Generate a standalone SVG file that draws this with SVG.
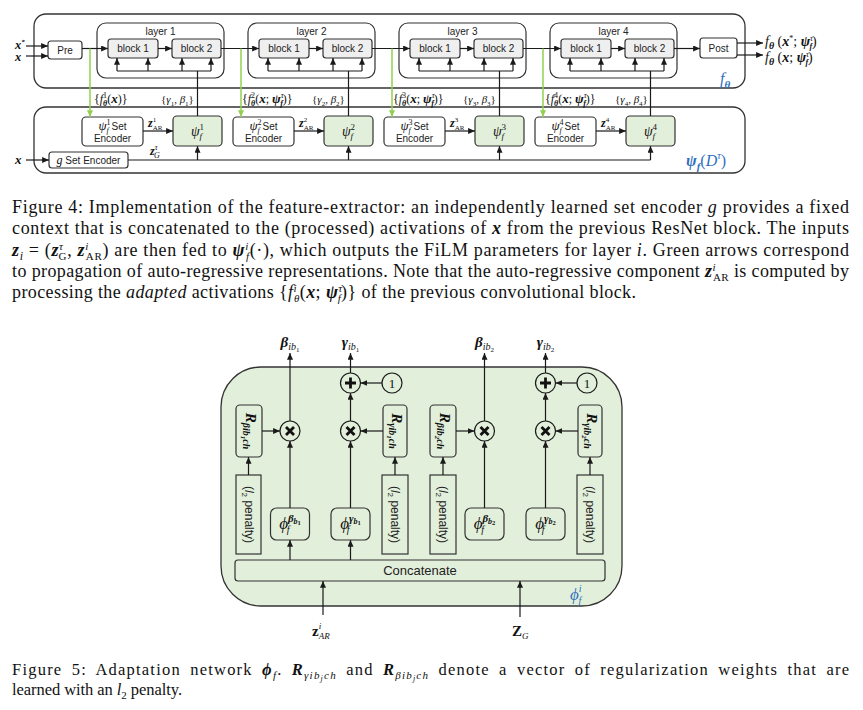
<svg xmlns="http://www.w3.org/2000/svg" width="863" height="710" viewBox="0 0 863 710">
<defs>
<marker id="ah" viewBox="0 0 8 7" refX="8" refY="3.5" markerWidth="7" markerHeight="6" markerUnits="userSpaceOnUse" orient="auto"><path d="M0,0 L8,3.5 L0,7 z" fill="#1a1a1a"/></marker>
<marker id="ahg" viewBox="0 0 8 7" refX="8" refY="3.5" markerWidth="7" markerHeight="6" markerUnits="userSpaceOnUse" orient="auto"><path d="M0,0 L8,3.5 L0,7 z" fill="#92d050"/></marker>
</defs>
<style>
.box{fill:#fff;stroke:#333;stroke-width:1.2}
.outer{fill:none;stroke:#333;stroke-width:1.3}
.blk{fill:#efefef;stroke:#333;stroke-width:1.2}
.grn{fill:#e2efda;stroke:#333;stroke-width:1.2}
.sq{fill:#e2efda;stroke:#333;stroke-width:1.2}
.circ{fill:#e2efda;stroke:#1a1a1a;stroke-width:1.2}
.op{stroke:#111;stroke-width:2.8;stroke-linecap:butt}
.ln{fill:none;stroke:#1a1a1a;stroke-width:1.2}
.arr{fill:none;stroke:#1a1a1a;stroke-width:1.2;marker-end:url(#ah)}
.garr{fill:none;stroke:#92d050;stroke-width:1.5;marker-end:url(#ahg)}
.sans{font-family:"Liberation Sans",Arial,sans-serif;font-size:10px;fill:#222;text-anchor:middle}
.ser{font-family:"Liberation Serif","DejaVu Serif","Times New Roman",serif;fill:#111}
.i{font-style:italic}
.b{font-weight:bold}
.bi{font-style:italic;font-weight:bold}
.cap4{font-family:"Liberation Serif","DejaVu Serif","Times New Roman",serif;font-size:18px;fill:#111}
.cap5{font-family:"Liberation Serif","DejaVu Serif","Times New Roman",serif;font-size:16.5px;fill:#111}
.blue{fill:#2f6fc0}
</style>

<!-- ===================== Figure 4 ===================== -->
<g id="f-theta">
<rect class="outer" x="34" y="14" width="711" height="74" rx="12"/>
<text class="ser i blue" x="720" y="84" font-size="16">f<tspan class="bi" font-size="11" baseline-shift="-4">θ</tspan></text>
</g>
<g id="psi-f">
<rect class="outer" x="34" y="107" width="711" height="66" rx="12"/>
<text class="ser blue" x="686" y="166" font-size="16"><tspan class="bi">ψ</tspan><tspan class="bi" font-size="11" baseline-shift="-4">f</tspan><tspan>(</tspan><tspan class="i">D</tspan><tspan class="i" font-size="10" baseline-shift="7">τ</tspan><tspan>)</tspan></text>
</g>

<g id="inputs-top">
<text class="ser bi" x="15" y="49" font-size="12.5">x<tspan font-size="7" baseline-shift="5">*</tspan></text>
<text class="ser bi" x="15" y="61" font-size="12.5">x</text>
<text class="ser bi" x="15" y="164" font-size="13">x</text>
</g>

<g id="pre">
<rect class="box" x="48" y="41" width="34" height="18" rx="3"/>
<text class="sans" x="65" y="53.5">Pre</text>
</g>
<g id="post">
<rect class="box" x="700" y="38" width="37" height="20" rx="3"/>
<text class="sans" x="718.5" y="51.5">Post</text>
</g>
<g id="outputs">
<text class="ser" x="765" y="46" font-size="14"><tspan class="i">f</tspan><tspan class="bi" font-size="10" baseline-shift="-3">θ</tspan> (<tspan class="bi">x</tspan><tspan font-size="8" baseline-shift="5">*</tspan>; <tspan class="bi">ψ</tspan><tspan class="i" font-size="8" baseline-shift="5">τ</tspan><tspan class="bi" font-size="8" dx="-3.5" baseline-shift="-3">f</tspan>)</text>
<text class="ser" x="765" y="62" font-size="14"><tspan class="i">f</tspan><tspan class="bi" font-size="10" baseline-shift="-3">θ</tspan> (<tspan class="bi">x</tspan>; <tspan class="bi">ψ</tspan><tspan class="i" font-size="8" baseline-shift="5">τ</tspan><tspan class="bi" font-size="8" dx="-3.5" baseline-shift="-3">f</tspan>)</text>
</g>

<!-- layers -->
<g id="layer1">
<rect class="box" x="97" y="23" width="127" height="55" rx="9"/>
<text class="sans" x="160.5" y="34.5">layer 1</text>
<g id="layer1-block1"><rect class="blk" x="108" y="39" width="50" height="19" rx="3"/><text class="sans" x="133" y="52">block 1</text></g>
<g id="layer1-block2"><rect class="blk" x="172" y="39" width="49" height="19" rx="3"/><text class="sans" x="196.5" y="52">block 2</text></g>
</g>
<g id="layer2">
<rect class="box" x="248" y="23" width="127" height="55" rx="9"/>
<text class="sans" x="311.5" y="34.5">layer 2</text>
<g id="layer2-block1"><rect class="blk" x="259" y="39" width="50" height="19" rx="3"/><text class="sans" x="284" y="52">block 1</text></g>
<g id="layer2-block2"><rect class="blk" x="323" y="39" width="49" height="19" rx="3"/><text class="sans" x="347.5" y="52">block 2</text></g>
</g>
<g id="layer3">
<rect class="box" x="399" y="23" width="127" height="55" rx="9"/>
<text class="sans" x="462.5" y="34.5">layer 3</text>
<g id="layer3-block1"><rect class="blk" x="410" y="39" width="50" height="19" rx="3"/><text class="sans" x="435" y="52">block 1</text></g>
<g id="layer3-block2"><rect class="blk" x="474" y="39" width="49" height="19" rx="3"/><text class="sans" x="498.5" y="52">block 2</text></g>
</g>
<g id="layer4">
<rect class="box" x="550" y="23" width="127" height="55" rx="9"/>
<text class="sans" x="613.5" y="34.5">layer 4</text>
<g id="layer4-block1"><rect class="blk" x="561" y="39" width="50" height="19" rx="3"/><text class="sans" x="586" y="52">block 1</text></g>
<g id="layer4-block2"><rect class="blk" x="625" y="39" width="49" height="19" rx="3"/><text class="sans" x="649.5" y="52">block 2</text></g>
</g>

<!-- set encoders and psi boxes -->
<g id="enc1"><rect class="box" x="82" y="117" width="61" height="29" rx="4"/>
<text class="sans" x="112.5" y="129.5"><tspan class="ser i" font-size="13">ψ</tspan><tspan class="ser" font-size="8" baseline-shift="5">1</tspan><tspan class="ser i" font-size="8" dx="-4" baseline-shift="-3">f</tspan> Set</text>
<text class="sans" x="112.5" y="142">Encoder</text></g>
<g id="enc2"><rect class="box" x="233" y="117" width="61" height="29" rx="4"/>
<text class="sans" x="263.5" y="129.5"><tspan class="ser i" font-size="13">ψ</tspan><tspan class="ser" font-size="8" baseline-shift="5">2</tspan><tspan class="ser i" font-size="8" dx="-4" baseline-shift="-3">f</tspan> Set</text>
<text class="sans" x="263.5" y="142">Encoder</text></g>
<g id="enc3"><rect class="box" x="384" y="117" width="61" height="29" rx="4"/>
<text class="sans" x="414.5" y="129.5"><tspan class="ser i" font-size="13">ψ</tspan><tspan class="ser" font-size="8" baseline-shift="5">3</tspan><tspan class="ser i" font-size="8" dx="-4" baseline-shift="-3">f</tspan> Set</text>
<text class="sans" x="414.5" y="142">Encoder</text></g>
<g id="enc4"><rect class="box" x="535" y="117" width="61" height="29" rx="4"/>
<text class="sans" x="565.5" y="129.5"><tspan class="ser i" font-size="13">ψ</tspan><tspan class="ser" font-size="8" baseline-shift="5">4</tspan><tspan class="ser i" font-size="8" dx="-4" baseline-shift="-3">f</tspan> Set</text>
<text class="sans" x="565.5" y="142">Encoder</text></g>

<g id="psi1"><rect class="grn" x="173" y="116" width="49" height="30" rx="4"/>
<text class="ser i" x="197.5" y="135.5" font-size="14" text-anchor="middle">ψ<tspan font-size="9" font-style="normal" baseline-shift="6">1</tspan><tspan font-size="9" dx="-4.5" baseline-shift="-3">f</tspan></text></g>
<g id="psi2"><rect class="grn" x="324" y="116" width="49" height="30" rx="4"/>
<text class="ser i" x="348.5" y="135.5" font-size="14" text-anchor="middle">ψ<tspan font-size="9" font-style="normal" baseline-shift="6">2</tspan><tspan font-size="9" dx="-4.5" baseline-shift="-3">f</tspan></text></g>
<g id="psi3"><rect class="grn" x="475" y="116" width="49" height="30" rx="4"/>
<text class="ser i" x="499.5" y="135.5" font-size="14" text-anchor="middle">ψ<tspan font-size="9" font-style="normal" baseline-shift="6">3</tspan><tspan font-size="9" dx="-4.5" baseline-shift="-3">f</tspan></text></g>
<g id="psi4"><rect class="grn" x="626" y="116" width="49" height="30" rx="4"/>
<text class="ser i" x="650.5" y="135.5" font-size="14" text-anchor="middle">ψ<tspan font-size="9" font-style="normal" baseline-shift="6">4</tspan><tspan font-size="9" dx="-4.5" baseline-shift="-3">f</tspan></text></g>

<g id="g-enc"><rect class="box" x="49" y="152" width="79" height="16" rx="3"/>
<text class="sans" x="88.5" y="163.5"><tspan class="ser i" font-size="12">g</tspan> Set Encoder</text></g>

<!-- connectors fig 4 -->
<g id="connectors-fig4">
<path class="arr" d="M26,46 H48"/>
<path class="arr" d="M26,56 H48"/>
<path class="arr" d="M26,160 H49"/>
<path class="arr" d="M82,48.5 H108"/>
<path class="arr" d="M221,48.5 H259"/>
<path class="arr" d="M372,48.5 H410"/>
<path class="arr" d="M523,48.5 H561"/>
<path class="arr" d="M674,48.5 H700"/>
<path class="arr" d="M158,48.5 H172"/>
<path class="arr" d="M309,48.5 H323"/>
<path class="arr" d="M460,48.5 H474"/>
<path class="arr" d="M611,48.5 H625"/>
<path class="arr" d="M737,43 H763"/>
<path class="arr" d="M737,55 H763"/>
<path class="ln" d="M117,71 H211 M268,71 H362 M419,71 H513 M570,71 H664"/>
<path class="arr" d="M117,71 V58"/><path class="arr" d="M148,71 V58"/><path class="arr" d="M182,71 V58"/><path class="arr" d="M211,71 V58"/>
<path class="arr" d="M268,71 V58"/><path class="arr" d="M299,71 V58"/><path class="arr" d="M333,71 V58"/><path class="arr" d="M362,71 V58"/>
<path class="arr" d="M419,71 V58"/><path class="arr" d="M450,71 V58"/><path class="arr" d="M484,71 V58"/><path class="arr" d="M513,71 V58"/>
<path class="arr" d="M570,71 V58"/><path class="arr" d="M601,71 V58"/><path class="arr" d="M635,71 V58"/><path class="arr" d="M664,71 V58"/>
<path class="ln" d="M197.5,116 V71 M348.5,116 V71 M499.5,116 V71 M650.5,116 V71"/>
<path class="garr" d="M90,48.5 V117"/>
<path class="garr" d="M241,48.5 V117"/>
<path class="garr" d="M392,48.5 V117"/>
<path class="garr" d="M543,48.5 V117"/>
<path class="arr" d="M143,131 H173"/>
<path class="arr" d="M294,131 H324"/>
<path class="arr" d="M445,131 H475"/>
<path class="arr" d="M596,131 H626"/>
<path class="ln" d="M128,160 H650.5"/>
<path class="arr" d="M197.5,160 V146"/>
<path class="arr" d="M348.5,160 V146"/>
<path class="arr" d="M499.5,160 V146"/>
<path class="arr" d="M650.5,160 V146"/>
</g>

<g id="labels-fig4">
<text class="ser" x="94" y="103" font-size="12">{<tspan class="i">f</tspan><tspan font-size="8" baseline-shift="5">1</tspan><tspan class="bi" font-size="8" dx="-4" baseline-shift="-3">θ</tspan>(<tspan class="bi" font-size="13">x</tspan>)}</text>
<text class="ser" x="161" y="103" font-size="11">{<tspan class="i">γ</tspan><tspan font-size="7" baseline-shift="-3">1</tspan>, <tspan class="i">β</tspan><tspan font-size="7" baseline-shift="-3">1</tspan>}</text>
<text class="ser" x="242" y="103" font-size="12">{<tspan class="i">f</tspan><tspan font-size="8" baseline-shift="5">2</tspan><tspan class="bi" font-size="8" dx="-4" baseline-shift="-3">θ</tspan>(<tspan class="bi" font-size="13">x</tspan>; <tspan class="bi" font-size="13">ψ</tspan><tspan class="i" font-size="8" baseline-shift="5">τ</tspan><tspan class="bi" font-size="8" dx="-3.5" baseline-shift="-3">f</tspan>)}</text>
<text class="ser" x="312" y="103" font-size="11">{<tspan class="i">γ</tspan><tspan font-size="7" baseline-shift="-3">2</tspan>, <tspan class="i">β</tspan><tspan font-size="7" baseline-shift="-3">2</tspan>}</text>
<text class="ser" x="393" y="103" font-size="12">{<tspan class="i">f</tspan><tspan font-size="8" baseline-shift="5">3</tspan><tspan class="bi" font-size="8" dx="-4" baseline-shift="-3">θ</tspan>(<tspan class="bi" font-size="13">x</tspan>; <tspan class="bi" font-size="13">ψ</tspan><tspan class="i" font-size="8" baseline-shift="5">τ</tspan><tspan class="bi" font-size="8" dx="-3.5" baseline-shift="-3">f</tspan>)}</text>
<text class="ser" x="463" y="103" font-size="11">{<tspan class="i">γ</tspan><tspan font-size="7" baseline-shift="-3">3</tspan>, <tspan class="i">β</tspan><tspan font-size="7" baseline-shift="-3">3</tspan>}</text>
<text class="ser" x="545" y="103" font-size="12">{<tspan class="i">f</tspan><tspan font-size="8" baseline-shift="5">4</tspan><tspan class="bi" font-size="8" dx="-4" baseline-shift="-3">θ</tspan>(<tspan class="bi" font-size="13">x</tspan>; <tspan class="bi" font-size="13">ψ</tspan><tspan class="i" font-size="8" baseline-shift="5">τ</tspan><tspan class="bi" font-size="8" dx="-3.5" baseline-shift="-3">f</tspan>)}</text>
<text class="ser" x="615" y="103" font-size="11">{<tspan class="i">γ</tspan><tspan font-size="7" baseline-shift="-3">4</tspan>, <tspan class="i">β</tspan><tspan font-size="7" baseline-shift="-3">4</tspan>}</text>
<text class="ser" x="148" y="127" font-size="12"><tspan class="bi">z</tspan><tspan font-size="7" baseline-shift="5">1</tspan><tspan font-size="7" dx="-3.5" baseline-shift="-3">AR</tspan></text>
<text class="ser" x="299" y="127" font-size="12"><tspan class="bi">z</tspan><tspan font-size="7" baseline-shift="5">2</tspan><tspan font-size="7" dx="-3.5" baseline-shift="-3">AR</tspan></text>
<text class="ser" x="450" y="127" font-size="12"><tspan class="bi">z</tspan><tspan font-size="7" baseline-shift="5">3</tspan><tspan font-size="7" dx="-3.5" baseline-shift="-3">AR</tspan></text>
<text class="ser" x="601" y="127" font-size="12"><tspan class="bi">z</tspan><tspan font-size="7" baseline-shift="5">4</tspan><tspan font-size="7" dx="-3.5" baseline-shift="-3">AR</tspan></text>
<text class="ser" x="150" y="155" font-size="12"><tspan class="bi">z</tspan><tspan class="i" font-size="8" baseline-shift="5">τ</tspan><tspan class="i" font-size="8" dx="-3.5" baseline-shift="-3">G</tspan></text>
</g>

<g id="caption4">
<text class="cap4" x="12" y="213" textLength="837" lengthAdjust="spacing">Figure 4: Implementation of the feature-extractor: an independently learned set encoder <tspan class="i">g</tspan> provides a fixed</text>
<text class="cap4" x="12" y="234" textLength="837" lengthAdjust="spacing">context that is concatenated to the (processed) activations of <tspan class="bi">x</tspan> from the previous ResNet block. The inputs</text>
<text class="cap4" x="12" y="256" textLength="837" lengthAdjust="spacing"><tspan class="bi">z</tspan><tspan class="i" font-size="12" baseline-shift="-4">i</tspan> = (<tspan class="bi">z</tspan><tspan class="i" font-size="11" baseline-shift="6">τ</tspan><tspan font-size="11" dx="-5" baseline-shift="-4">G</tspan>, <tspan class="bi">z</tspan><tspan class="i" font-size="11" baseline-shift="6">i</tspan><tspan font-size="11" dx="-3" baseline-shift="-4">AR</tspan>) are then fed to <tspan class="bi">ψ</tspan><tspan class="i" font-size="11" baseline-shift="6">i</tspan><tspan class="i" font-size="11" dx="-3" baseline-shift="-4">f</tspan>(·), which outputs the FiLM parameters for layer <tspan class="i">i</tspan>. Green arrows correspond</text>
<text class="cap4" x="12" y="277" textLength="837" lengthAdjust="spacing">to propagation of auto-regressive representations. Note that the auto-regressive component <tspan class="bi">z</tspan><tspan class="i" font-size="11" baseline-shift="6">i</tspan><tspan font-size="11" dx="-3" baseline-shift="-4">AR</tspan> is computed by</text>
<text class="cap4" x="12" y="298" textLength="624" lengthAdjust="spacing">processing the <tspan class="i">adapted</tspan> activations {<tspan class="i">f</tspan><tspan class="i" font-size="11" baseline-shift="6">i</tspan><tspan class="i" font-size="11" dx="-3" baseline-shift="-4">θ</tspan>(<tspan class="bi">x</tspan>; <tspan class="bi">ψ</tspan><tspan class="i" font-size="11" baseline-shift="6">τ</tspan><tspan class="i" font-size="11" dx="-5" baseline-shift="-4">f</tspan>)} of the previous convolutional block.</text>
</g>

<!-- ===================== Figure 5 ===================== -->
<g id="phi-f">
<rect x="221" y="367" width="401" height="239" rx="40" fill="#e2efda" stroke="#333" stroke-width="1.3"/>
<text class="ser i blue" x="570" y="600" font-size="17">ϕ<tspan font-size="10" baseline-shift="8">i</tspan><tspan font-size="10" dx="-3" baseline-shift="-4">f</tspan></text>
</g>

<g id="concatenate">
<rect class="sq" x="235" y="560" width="370" height="21" rx="3"/>
<text class="sans" x="420" y="575" style="font-size:13px">Concatenate</text>
</g>

<g id="l2-1"><rect class="sq" x="236" y="475" width="25" height="79"/>
<text class="sans" transform="translate(248.5,514.5) rotate(90)" y="4" style="font-size:12px">(<tspan class="i">l</tspan><tspan font-size="8" baseline-shift="-3">2</tspan> penalty)</text></g>
<g id="l2-2"><rect class="sq" x="382" y="475" width="26" height="79"/>
<text class="sans" transform="translate(395,514.5) rotate(90)" y="4" style="font-size:12px">(<tspan class="i">l</tspan><tspan font-size="8" baseline-shift="-3">2</tspan> penalty)</text></g>
<g id="l2-3"><rect class="sq" x="430" y="475" width="26" height="79"/>
<text class="sans" transform="translate(443,514.5) rotate(90)" y="4" style="font-size:12px">(<tspan class="i">l</tspan><tspan font-size="8" baseline-shift="-3">2</tspan> penalty)</text></g>
<g id="l2-4"><rect class="sq" x="577" y="475" width="26" height="79"/>
<text class="sans" transform="translate(590,514.5) rotate(90)" y="4" style="font-size:12px">(<tspan class="i">l</tspan><tspan font-size="8" baseline-shift="-3">2</tspan> penalty)</text></g>

<g id="R-beta-b1"><rect class="sq" x="236" y="405" width="26" height="52" rx="4"/>
<text class="ser" transform="translate(249,431) rotate(90)" y="3" text-anchor="middle" font-size="15"><tspan class="bi">R</tspan><tspan class="bi" font-size="10" baseline-shift="-3">βib</tspan><tspan class="bi" font-size="7" baseline-shift="-5">1</tspan><tspan class="bi" font-size="10" baseline-shift="-3">ch</tspan></text></g>
<g id="R-gamma-b1"><rect class="sq" x="383" y="405" width="24" height="52" rx="4"/>
<text class="ser" transform="translate(395,431) rotate(90)" y="3" text-anchor="middle" font-size="15"><tspan class="bi">R</tspan><tspan class="bi" font-size="10" baseline-shift="-3">γib</tspan><tspan class="bi" font-size="7" baseline-shift="-5">1</tspan><tspan class="bi" font-size="10" baseline-shift="-3">ch</tspan></text></g>
<g id="R-beta-b2"><rect class="sq" x="430" y="405" width="26" height="52" rx="4"/>
<text class="ser" transform="translate(443,431) rotate(90)" y="3" text-anchor="middle" font-size="15"><tspan class="bi">R</tspan><tspan class="bi" font-size="10" baseline-shift="-3">βib</tspan><tspan class="bi" font-size="7" baseline-shift="-5">2</tspan><tspan class="bi" font-size="10" baseline-shift="-3">ch</tspan></text></g>
<g id="R-gamma-b2"><rect class="sq" x="578" y="405" width="24" height="52" rx="4"/>
<text class="ser" transform="translate(590,431) rotate(90)" y="3" text-anchor="middle" font-size="15"><tspan class="bi">R</tspan><tspan class="bi" font-size="10" baseline-shift="-3">γib</tspan><tspan class="bi" font-size="7" baseline-shift="-5">2</tspan><tspan class="bi" font-size="10" baseline-shift="-3">ch</tspan></text></g>

<g id="phi-beta-b1"><rect class="sq" x="270.5" y="508" width="39" height="32" rx="6"/>
<text class="ser" x="290" y="529" text-anchor="middle" font-size="17"><tspan class="i">ϕ</tspan><tspan class="bi" font-size="11" baseline-shift="7">β</tspan><tspan class="bi" font-size="8" baseline-shift="5">b</tspan><tspan class="b" font-size="6.5" baseline-shift="4">1</tspan><tspan class="i" font-size="10" dx="-14" baseline-shift="-4">f</tspan></text></g>
<g id="phi-gamma-b1"><rect class="sq" x="331" y="508" width="39" height="32" rx="6"/>
<text class="ser" x="350.5" y="529" text-anchor="middle" font-size="17"><tspan class="i">ϕ</tspan><tspan class="bi" font-size="11" baseline-shift="7">γ</tspan><tspan class="bi" font-size="8" baseline-shift="5">b</tspan><tspan class="b" font-size="6.5" baseline-shift="4">1</tspan><tspan class="i" font-size="10" dx="-14" baseline-shift="-4">f</tspan></text></g>
<g id="phi-beta-b2"><rect class="sq" x="465" y="508" width="39" height="32" rx="6"/>
<text class="ser" x="484.5" y="529" text-anchor="middle" font-size="17"><tspan class="i">ϕ</tspan><tspan class="bi" font-size="11" baseline-shift="7">β</tspan><tspan class="bi" font-size="8" baseline-shift="5">b</tspan><tspan class="b" font-size="6.5" baseline-shift="4">2</tspan><tspan class="i" font-size="10" dx="-14" baseline-shift="-4">f</tspan></text></g>
<g id="phi-gamma-b2"><rect class="sq" x="526" y="508" width="39" height="32" rx="6"/>
<text class="ser" x="545.5" y="529" text-anchor="middle" font-size="17"><tspan class="i">ϕ</tspan><tspan class="bi" font-size="11" baseline-shift="7">γ</tspan><tspan class="bi" font-size="8" baseline-shift="5">b</tspan><tspan class="b" font-size="6.5" baseline-shift="4">2</tspan><tspan class="i" font-size="10" dx="-14" baseline-shift="-4">f</tspan></text></g>

<g id="mul-beta-b1"><circle class="circ" cx="290" cy="431" r="10"/><path class="op" d="M286,427 L294,435 M294,427 L286,435"/></g>
<g id="mul-gamma-b1"><circle class="circ" cx="350.5" cy="431" r="10"/><path class="op" d="M346.5,427 L354.5,435 M354.5,427 L346.5,435"/></g>
<g id="add-gamma-b1"><circle class="circ" cx="350.5" cy="383" r="10"/><path class="op" d="M345,383 H356 M350.5,377.5 V388.5"/></g>
<g id="one-b1"><circle class="circ" cx="392" cy="383" r="10"/><text class="ser" x="392" y="387.5" text-anchor="middle" font-size="13">1</text></g>
<g id="mul-beta-b2"><circle class="circ" cx="484.5" cy="431" r="10"/><path class="op" d="M480.5,427 L488.5,435 M488.5,427 L480.5,435"/></g>
<g id="mul-gamma-b2"><circle class="circ" cx="545.5" cy="431" r="10"/><path class="op" d="M541.5,427 L549.5,435 M549.5,427 L541.5,435"/></g>
<g id="add-gamma-b2"><circle class="circ" cx="545.5" cy="383" r="10"/><path class="op" d="M540,383 H551 M545.5,377.5 V388.5"/></g>
<g id="one-b2"><circle class="circ" cx="587" cy="383" r="10"/><text class="ser" x="587" y="387.5" text-anchor="middle" font-size="13">1</text></g>

<g id="outputs-fig5">
<text class="ser" x="290" y="347" text-anchor="middle" font-size="15"><tspan class="bi">β</tspan><tspan class="i" font-size="10" baseline-shift="-3">ib</tspan><tspan font-size="7" baseline-shift="-5">1</tspan></text>
<text class="ser" x="350.5" y="347" text-anchor="middle" font-size="15"><tspan class="bi">γ</tspan><tspan class="i" font-size="10" baseline-shift="-3">ib</tspan><tspan font-size="7" baseline-shift="-5">1</tspan></text>
<text class="ser" x="484.5" y="347" text-anchor="middle" font-size="15"><tspan class="bi">β</tspan><tspan class="i" font-size="10" baseline-shift="-3">ib</tspan><tspan font-size="7" baseline-shift="-5">2</tspan></text>
<text class="ser" x="545.5" y="347" text-anchor="middle" font-size="15"><tspan class="bi">γ</tspan><tspan class="i" font-size="10" baseline-shift="-3">ib</tspan><tspan font-size="7" baseline-shift="-5">2</tspan></text>
</g>
<g id="inputs-fig5">
<text class="ser" x="312" y="636" font-size="15"><tspan class="b">z</tspan><tspan class="i" font-size="9" baseline-shift="7">i</tspan><tspan class="i" font-size="9" dx="-2.5" baseline-shift="-3">AR</tspan></text>
<text class="ser" x="512" y="636" font-size="15"><tspan class="b">Z</tspan><tspan class="i" font-size="9" baseline-shift="-3">G</tspan></text>
</g>

<g id="connectors-fig5">
<path class="arr" d="M290,421 V353"/>
<path class="arr" d="M350.5,421 V393"/>
<path class="arr" d="M350.5,373 V353"/>
<path class="arr" d="M382,383 H360.5"/>
<path class="arr" d="M262,431 H280"/>
<path class="arr" d="M383,431 H360.5"/>
<path class="arr" d="M290,508 V441"/>
<path class="arr" d="M350.5,508 V441"/>
<path class="arr" d="M248.5,475 V457"/>
<path class="arr" d="M395,475 V457"/>
<path class="arr" d="M290,560 V540"/>
<path class="arr" d="M350.5,560 V540"/>
<path class="arr" d="M484.5,421 V353"/>
<path class="arr" d="M545.5,421 V393"/>
<path class="arr" d="M545.5,373 V353"/>
<path class="arr" d="M577,383 H555.5"/>
<path class="arr" d="M456,431 H474.5"/>
<path class="arr" d="M578,431 H555.5"/>
<path class="arr" d="M484.5,508 V441"/>
<path class="arr" d="M545.5,508 V441"/>
<path class="arr" d="M443,475 V457"/>
<path class="arr" d="M590,475 V457"/>
<path class="arr" d="M323,615 V581"/>
<path class="arr" d="M520,617 V581"/>
</g>

<g id="caption5">
<text class="cap5" x="12" y="675" textLength="837" lengthAdjust="spacing" word-spacing="4">Figure 5: Adaptation network <tspan class="bi">ϕ</tspan><tspan class="i" font-size="11" baseline-shift="-4">f</tspan>. <tspan class="bi">R</tspan><tspan class="i" font-size="11" baseline-shift="-4">γib</tspan><tspan class="i" font-size="8" baseline-shift="-6">j</tspan><tspan class="i" font-size="11" baseline-shift="-4">ch</tspan> and <tspan class="bi">R</tspan><tspan class="i" font-size="11" baseline-shift="-4">βib</tspan><tspan class="i" font-size="8" baseline-shift="-6">j</tspan><tspan class="i" font-size="11" baseline-shift="-4">ch</tspan> denote a vector of regularization weights that are</text>
<text class="cap5" x="12" y="695" textLength="170" lengthAdjust="spacing">learned with an <tspan class="i">l</tspan><tspan font-size="11" baseline-shift="-4">2</tspan> penalty.</text>
</g>
</svg>
